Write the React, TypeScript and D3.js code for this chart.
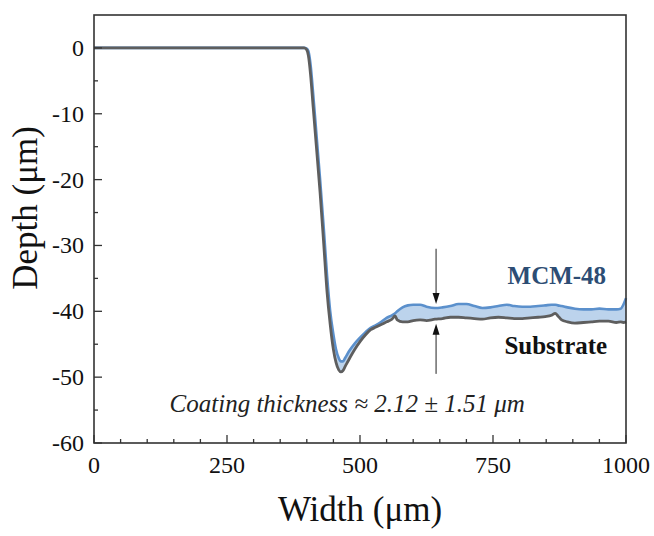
import React from 'react';
import * as d3 from 'd3';

const widthUm = [0, 395, 400, 403, 407, 412, 418, 425, 432, 438, 444, 450, 455, 460, 464, 468, 472, 480, 490, 500, 510, 520, 530, 540, 550, 560, 566, 570, 580, 590, 600, 613, 625, 641, 655, 670, 685, 700, 715, 730, 745, 760, 776, 790, 805, 820, 835, 848, 860, 867, 872, 879, 890, 904, 920, 935, 950, 967, 982, 990, 995, 1000];
const substrateDepth = [0, 0, -0.3, -1.2, -4, -9, -15, -22, -30, -37, -42, -45.8, -47.8, -48.9, -49.2, -49.0, -48.4, -47.2, -45.8, -44.6, -43.6, -42.8, -42.4, -42.0, -41.6, -41.2, -40.7, -41.3, -41.6, -41.6, -41.4, -41.3, -41.4, -41.2, -41.1, -40.9, -40.9, -41.0, -41.1, -41.2, -41.0, -40.9, -41.0, -41.1, -41.1, -41.0, -40.9, -40.8, -40.6, -40.3, -40.7, -41.3, -41.6, -41.8, -41.7, -41.6, -41.5, -41.5, -41.7, -41.6, -41.7, -41.6];
const mcmDepth = [0, 0, -0.1, -0.5, -2.5, -7, -13, -20, -27.5, -34.5, -40, -43.5, -45.8, -47.1, -47.6, -47.6, -47.1, -46.0, -44.9, -44.0, -43.2, -42.5, -42.1, -41.6, -41.0, -40.6, -40.3, -40.0, -39.4, -39.1, -39.0, -39.0, -39.3, -39.5, -39.4, -39.2, -38.9, -38.9, -39.2, -39.5, -39.4, -39.2, -39.0, -39.2, -39.3, -39.3, -39.2, -39.1, -39.0, -39.0, -39.1, -39.2, -39.4, -39.6, -39.7, -39.7, -39.6, -39.7, -39.7, -39.6, -39.0, -38.0];

const xTicks = [0, 250, 500, 750, 1000];
const yTicks = [0, -10, -20, -30, -40, -50, -60];
const xMinor = d3.range(0, 1001, 50);
const yMinor = d3.range(-60, 1, 5);

const seriesLabels = ['MCM-48', 'Substrate'];
const annotation = 'Coating thickness \u2248 2.12 \u00b1 1.51 \u03bcm';
const arrowX = 643;

const FONT = '"Liberation Serif", "Times New Roman", serif';

export default function App() {
  const W = 654, H = 536;
  const L = 94, R = 626, T = 15, B = 443;
  const x = d3.scaleLinear().domain([0, 1000]).range([L, R]);
  const y = d3.scaleLinear().domain([-60, 5]).range([B, T]);
  const pts = widthUm.map((w, i) => ({ w, s: substrateDepth[i], c: mcmDepth[i] }));
  const area = d3.area<any>().x(d => x(d.w)).y0(d => y(d.s)).y1(d => y(d.c)).curve(d3.curveMonotoneX);
  const lineS = d3.line<any>().x(d => x(d.w)).y(d => y(d.s)).curve(d3.curveMonotoneX);
  const lineC = d3.line<any>().x(d => x(d.w)).y(d => y(d.c)).curve(d3.curveMonotoneX);

  const ax = x(arrowX);
  const topTip = y(-38.9), topStart = y(-30.5);
  const botTip = y(-41.9), botEnd = y(-49.5);

  return (
    <svg width={W} height={H} style={{ position: 'absolute', left: 0, top: 0, background: '#fff' }} fontFamily={FONT}>
      <rect x={0} y={0} width={W} height={H} fill="#fff" />
      <path d={area(pts) || ''} fill="#bcd3ec" stroke="none" />
      <path d={lineC(pts) || ''} fill="none" stroke="#5b90cc" strokeWidth={2.6} strokeLinejoin="round" />
      <path d={lineS(pts) || ''} fill="none" stroke="#5e5e5e" strokeWidth={2.8} strokeLinejoin="round" />

      <line x1={ax} x2={ax} y1={topStart} y2={topTip - 6} stroke="#222" strokeWidth={1} />
      <path d={`M${ax},${topTip} L${ax - 3.5},${topTip - 11} L${ax + 3.5},${topTip - 11} Z`} fill="#111" />
      <line x1={ax} x2={ax} y1={botTip + 6} y2={botEnd} stroke="#222" strokeWidth={1} />
      <path d={`M${ax},${botTip} L${ax - 3.5},${botTip + 11} L${ax + 3.5},${botTip + 11} Z`} fill="#111" />

      <text x={x(870)} y={y(-35.8)} textAnchor="middle" fontSize={25} fontWeight="bold" fill="#2d4d74">{seriesLabels[0]}</text>
      <text x={x(868)} y={y(-46.5)} textAnchor="middle" fontSize={25} fontWeight="bold" fill="#111">{seriesLabels[1]}</text>
      <text x={x(476)} y={y(-55.3)} textAnchor="middle" fontSize={25} fontStyle="italic" fill="#222">{annotation}</text>

      <rect x={L} y={T} width={R - L} height={B - T} fill="none" stroke="#333" strokeWidth={1.6} />

      {xMinor.map(v => (
        <line key={'xm' + v} x1={x(v)} x2={x(v)} y1={B} y2={B - (v % 250 === 0 ? 8 : 4)} stroke="#333" strokeWidth={1.3} />
      ))}
      {yMinor.map(v => (
        <line key={'ym' + v} x1={L} x2={L + (v % 10 === 0 ? 8 : 4)} y1={y(v)} y2={y(v)} stroke="#333" strokeWidth={1.3} />
      ))}
      {xTicks.map(v => (
        <text key={'xt' + v} x={x(v)} y={B + 30} textAnchor="middle" fontSize={24} fill="#111">{v}</text>
      ))}
      {yTicks.map(v => (
        <text key={'yt' + v} x={L - 10} y={y(v) + 8} textAnchor="end" fontSize={24} fill="#111">{v}</text>
      ))}

      <text x={(L + R) / 2} y={521} textAnchor="middle" fontSize={35} fill="#111">Width (μm)</text>
      <text transform={`translate(37,${208}) rotate(-90)`} textAnchor="middle" fontSize={35} fill="#111">Depth (μm)</text>
    </svg>
  );
}
